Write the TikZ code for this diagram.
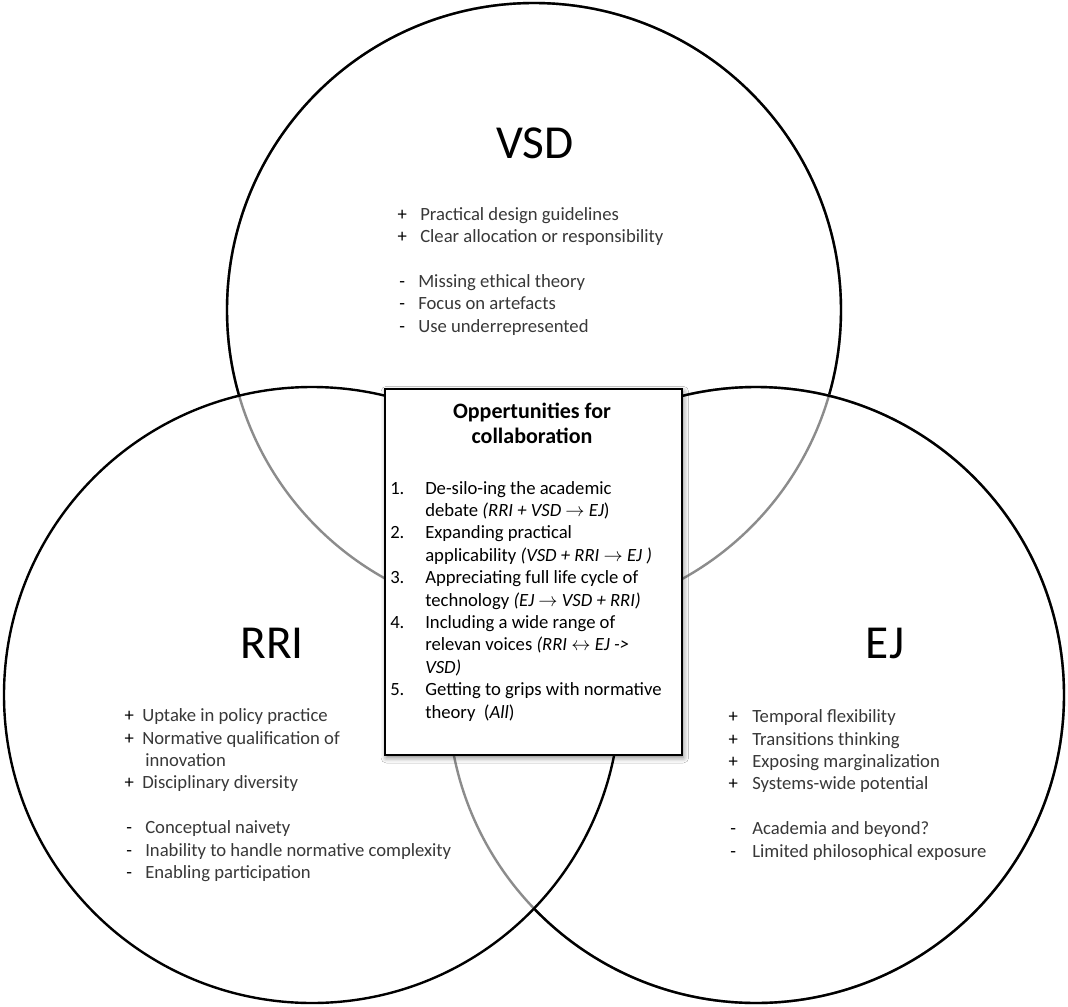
\documentclass[tikz,border=0pt]{standalone}
\usepackage{fontspec}
\setmainfont{Carlito}
\usetikzlibrary{shadows.blur}
\newcommand\bul[2]{\makebox[#2][l]{\makebox[13.5pt][c]{\color{black}#1}}}
\newcommand\collabnum[1]{\makebox[26.25pt][l]{#1}}
\newcommand\collabind{\hspace*{26.25pt}}
\begin{document}
\begin{tikzpicture}[x=0.75pt,y=-0.75pt,
  ring/.style={line width=1.8pt, draw=black},
  faint/.style={line width=1.8pt, draw=black!45},
  txt/.style={font=\fontsize{14}{16.8}\selectfont, inner sep=0pt, align=left, anchor=base west},
  ltxt/.style={txt, text=black!78},
  big/.style={font=\fontsize{35.5}{40}\selectfont, inner sep=0pt},
  collab/.style={draw=black, line width=1pt, fill=white, inner sep=0pt,
    minimum width=222.75pt, minimum height=274.5pt,
    blur shadow={shadow xshift=1pt, shadow yshift=-2pt, shadow blur radius=4pt, shadow opacity=50}},
]
\useasboundingbox (0,0) rectangle (1068,1007);
\fill[white] (0,0) rectangle (1068,1007);
\coordinate (cV) at (534,310);
\coordinate (cR) at (312,695);
\coordinate (cE) at (756,695);

% VSD circle: faint where inside the lower circles, black elsewhere
\draw[faint] (cV) circle[radius=307];
\begin{scope}[even odd rule]
  \clip (-20,-20) rectangle (1090,1030) (cR) circle[radius=308];
  \clip (-20,-20) rectangle (1090,1030) (cE) circle[radius=308];
  \draw[ring] (cV) circle[radius=307];
\end{scope}

% EJ circle: faint where inside the RRI circle
\draw[faint] (cE) circle[radius=308];
\begin{scope}[even odd rule]
  \clip (-20,-20) rectangle (1090,1030) (cR) circle[radius=308];
  \draw[ring] (cE) circle[radius=308];
\end{scope}

% RRI circle
\draw[ring] (cR) circle[radius=308];

% labels
\node[big] (lvsd) at (535,143) {VSD};
\node[big] (lrri) at (272,643) {RRI};
\node[big] (lej) at (885,643) {EJ};

% VSD list (anchor = baseline of last line)
\node[ltxt] (vsdlist) at (393,332) {%
\bul{+}{20.25pt}Practical design guidelines\\
\bul{+}{20.25pt}Clear allocation or responsibility\\[16.8pt]
\bul{-}{18.75pt}Missing ethical theory\\
\bul{-}{18.75pt}Focus on artefacts\\
\bul{-}{18.75pt}Use underrepresented};

% RRI list
\node[ltxt] (rrilist) at (120,878.5) {%
\bul{+}{16.5pt}Uptake in policy practice\\
\bul{+}{16.5pt}Normative qualification of\\
\hspace*{18.75pt}innovation\\
\bul{+}{16.5pt}Disciplinary diversity\\[16.8pt]
\bul{-}{18.75pt}Conceptual naivety\\
\bul{-}{18.75pt}Inability to handle normative complexity\\
\bul{-}{18.75pt}Enabling participation};

% EJ list
\node[ltxt] (ejlist) at (724,857) {%
\bul{+}{21pt}Temporal flexibility\\
\bul{+}{21pt}Transitions thinking\\
\bul{+}{21pt}Exposing marginalization\\
\bul{+}{21pt}Systems-wide potential\\[16.8pt]
\bul{-}{21pt}Academia and beyond?\\
\bul{-}{21pt}Limited philosophical exposure};

% central box
\node[collab] (box) at (533.5,572) {};
\node[font=\fontsize{16.5}{18.75}\selectfont\bfseries, align=center, inner sep=0pt, anchor=base] (ttl) at (532,443) {Oppertunities for\\collaboration};
\node[txt] (opps) at (390,718) {%
\collabnum{1.}De-silo-ing the academic\\
\collabind debate \textit{(RRI + VSD $\rightarrow$ EJ})\\
\collabnum{2.}Expanding practical\\
\collabind applicability \textit{(VSD + RRI $\rightarrow$ EJ )}\\
\collabnum{3.}Appreciating full life cycle of\\
\collabind technology \textit{(EJ $\rightarrow$ VSD + RRI)}\\
\collabnum{4.}Including a wide range of\\
\collabind relevan voices \textit{(RRI $\leftrightarrow$ EJ -{}>}\\
\collabind \textit{VSD)}\\
\collabnum{5.}Getting to grips with normative\\
\collabind theory \ (\textit{All})};
\end{tikzpicture}
\end{document}
